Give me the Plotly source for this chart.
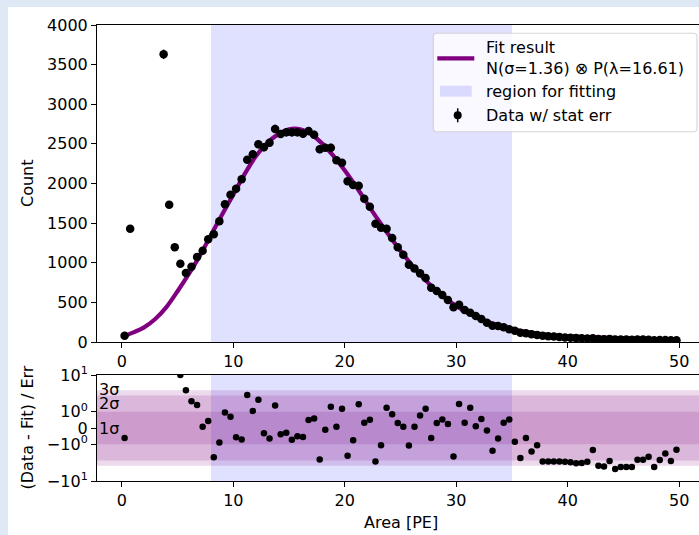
import numpy as np
import plotly.graph_objects as go

# ---------------- data ----------------
bin_centers = np.arange(0.25, 50.0, 0.5)

counts = [80, 1430, None, None, None, None, None, 3630, 1733, 1195,
          988, 870, 950, 1072, 1152, 1296, 1359, 1523, 1737, 1859,
          1934, 2053, 2300, 2368, 2494, 2456, 2515, 2688, 2625, 2646,
          2646, 2646, 2629, 2662, 2616, 2431, 2452, 2452, 2293, 2263,
          2028, 1981, 1972, 1808, 1707, 1493, 1442, 1430, 1312, 1195,
          1102, 976, 929, 866, 808, 686, 643, 593, 530, 438,
          471, 404, 370, 328, 290, 244, 206, 202, 185, 160,
          143, 118, 110, 97, 88, 80, 74, 68, 62, 57,
          53, 49, 46, 45, 47, 38, 36, 39, 31, 31,
          30, 29, 31, 30, 29, 23, 26, 26, 23, 23]

residuals = [-0.61, 35, None, None, None, None, None, 54, 30, 17,
             10.0, 3.0, 1.64, 1.42, 0.08, 0.43, -1.8, -0.89, 0.95, 0.69,
             -0.57, -0.71, 2.06, 1.05, 1.74, -0.33, -0.65, 1.38, -0.39, -0.29,
             -0.73, -0.51, -0.55, 0.49, 0.58, -1.93, -0.10, 1.30, 0.08, 1.19,
             -1.70, -0.75, 1.46, 0.32, 0.50, -2.14, -1.06, 1.25, 0.85, 0.30,
             0.08, -1.08, 0.08, 0.77, 1.19, -0.61, 0.30, 0.52, 0.24, -1.75,
             1.48, 0.32, 1.24, 0.10, 0.55, -0.15, -1.40, -0.65, 0.32, 0.52,
             -0.85, -1.85, -0.61, -1.44, -1.06, -2.14, -2.14, -2.14, -2.14, -2.2,
             -2.3, -2.5, -2.45, -2.2, -1.36, -3.0, -3.2, -2.06, -3.9, -3.3,
             -3.3, -3.3, -1.95, -1.95, -1.76, -3.3, -1.97, -1.56, -2.06, -1.34]

fit_x = [0.25, 1, 2, 3, 4, 5, 6, 7, 8, 9, 10, 11, 12, 13, 14, 15, 16, 17, 18, 19,
         20, 21, 22, 23, 24, 25, 26, 27, 28, 29, 30, 31, 32, 33, 34, 35, 36, 37, 38,
         39, 40, 42, 44, 46, 48, 49.75]
fit_y = [78, 118, 185, 290, 440, 640, 855, 1090, 1350, 1610, 1860, 2115, 2340, 2505,
         2620, 2685, 2685, 2620, 2500, 2345, 2165, 1965, 1750, 1540, 1340, 1150, 975,
         815, 675, 553, 455, 370, 302, 247, 203, 165, 135, 112, 95, 82, 72, 60, 51,
         44, 38, 33]

fit_region = [8, 35]
sigma_levels = [3, 2, 1]
sigma_labels = ["3σ", "2σ", "1σ"]
sigma_label_pos = [3.3, 1.5, 0.0]

count_ticks = [0, 500, 1000, 1500, 2000, 2500, 3000, 3500, 4000]
x_ticks = [0, 10, 20, 30, 40, 50]
res_tick_vals = [10, 1, 0, -1, -10]
res_tick_text = ["10<sup>1</sup>", "10<sup>0</sup>", "0", "−10<sup>0</sup>", "−10<sup>1</sup>"]


# symlog transform (linthresh=2, linscale=1, base 10)
def symlog(v, lt=2.0, ls=1.0):
    if v is None:
        return None
    adj = ls / (1 - 1 / 10.0)
    a = abs(v)
    if a <= lt:
        return v * adj
    return np.sign(v) * lt * (adj + np.log10(a / lt))


res_t = [symlog(v) for v in residuals]
err = [None if c is None else float(np.sqrt(c)) for c in counts]

# ---------------- geometry (page pixels) ----------------
OX, OY = 8, 7
W, H = 691, 528
ML, MT, MB = 89, 18, 54
PW = W - ML
PH = H - MT - MB
FONT = "DejaVu Sans"
FS = 16


def PX(px):
    return (px - OX - ML) / PW


def PY(py):
    return ((H - MB) - (py - OY)) / PH


top_dom = [PY(342), 1.0]
bot_dom = [0.0, PY(375)]
xr = [-2.225, 51.77]
ylim_t = symlog(10)

fig = go.Figure()

fig.add_trace(go.Scatter(x=fit_x, y=fit_y, mode="lines", line=dict(color="#800080", width=4.2, shape="spline", smoothing=0.8),
                         xaxis="x", yaxis="y", hoverinfo="skip"))
fig.add_trace(go.Scatter(x=bin_centers, y=counts, mode="markers",
                         marker=dict(color="black", size=8.5),
                         error_y=dict(type="data", array=err, color="black", thickness=1.5, width=0),
                         xaxis="x", yaxis="y"))
fig.add_trace(go.Scatter(x=bin_centers, y=res_t, mode="markers",
                         marker=dict(color="black", size=6.5),
                         xaxis="x2", yaxis="y2", cliponaxis=True))

shapes = []
# fitting region in both panels
for xa, ya in (("x", "y domain"), ("x2", "y2 domain")):
    shapes.append(dict(type="rect", xref=xa, yref=ya, x0=fit_region[0], x1=fit_region[1], y0=0, y1=1,
                       fillcolor="rgba(0,0,255,0.12)", line=dict(width=0), layer="below"))
# sigma bands
for s in sigma_levels:
    shapes.append(dict(type="rect", xref="x2 domain", yref="y2", x0=0, x1=1, y0=symlog(-s), y1=symlog(s),
                       fillcolor="rgba(128,0,128,0.15)", line=dict(width=0), layer="below"))

# manual legend
lx0, lx1, ly0, ly1 = 433.3, 697.0, 33.3, 131.7
r = 3.5
def pxp(x): return PX(x)
def pyp(y): return PY(y)
path = (f"M {pxp(lx0 + r)},{pyp(ly0)} L {pxp(lx1 - r)},{pyp(ly0)} "
        f"Q {pxp(lx1)},{pyp(ly0)} {pxp(lx1)},{pyp(ly0 + r)} L {pxp(lx1)},{pyp(ly1 - r)} "
        f"Q {pxp(lx1)},{pyp(ly1)} {pxp(lx1 - r)},{pyp(ly1)} L {pxp(lx0 + r)},{pyp(ly1)} "
        f"Q {pxp(lx0)},{pyp(ly1)} {pxp(lx0)},{pyp(ly1 - r)} L {pxp(lx0)},{pyp(ly0 + r)} "
        f"Q {pxp(lx0)},{pyp(ly0)} {pxp(lx0 + r)},{pyp(ly0)} Z")
shapes.append(dict(type="path", xref="paper", yref="paper", path=path,
                   fillcolor="rgba(255,255,255,0.8)", line=dict(color="rgba(204,204,204,0.8)", width=1.1),
                   layer="above"))
shapes.append(dict(type="line", xref="paper", yref="paper", x0=PX(437.3), x1=PX(474.3), y0=PY(58.3), y1=PY(58.3),
                   line=dict(color="#800080", width=4.2), layer="above"))
shapes.append(dict(type="rect", xref="paper", yref="paper", x0=PX(440), x1=PX(471.7), y0=PY(96.7), y1=PY(85.7),
                   fillcolor="rgba(0,0,255,0.12)", line=dict(width=0), layer="above"))
shapes.append(dict(type="line", xref="paper", yref="paper", xsizemode="pixel", ysizemode="pixel",
                   xanchor=PX(457.7), yanchor=PY(115.3), x0=0, x1=0, y0=-7, y1=7,
                   line=dict(color="black", width=1.5), layer="above"))
shapes.append(dict(type="circle", xref="paper", yref="paper", xsizemode="pixel", ysizemode="pixel",
                   xanchor=PX(457.7), yanchor=PY(115.3), x0=-4, x1=4, y0=-4, y1=4,
                   fillcolor="black", line=dict(width=0), layer="above"))

ann = []
leg_text = [("Fit result", 47.3), ("N(σ=1.36) ⊗ P(λ=16.61)", 68.3), ("region for fitting", 91.7),
            ("Data w/ stat err", 115.7)]
for t, yy in leg_text:
    ann.append(dict(text=t, xref="paper", yref="paper", x=PX(485.0), y=PY(yy), xanchor="left", yanchor="middle",
                    showarrow=False, font=dict(family=FONT, size=FS, color="black"), borderpad=0))
for lab, pos in zip(sigma_labels, sigma_label_pos):
    ann.append(dict(text=lab, xref="x2", yref="y2", x=-2.15, y=symlog(pos), xanchor="left", yanchor="middle",
                    showarrow=False, font=dict(family=FONT, size=FS, color="black"), borderpad=0))
ann.append(dict(text="Count", xref="paper", yref="paper", x=PX(27.5), y=PY(183.5), textangle=-90,
                xanchor="center", yanchor="middle", showarrow=False, font=dict(family=FONT, size=FS, color="black")))
ann.append(dict(text="(Data - Fit) / Err", xref="paper", yref="paper", x=PX(26.5), y=PY(428), textangle=-90,
                xanchor="center", yanchor="middle", showarrow=False, font=dict(family=FONT, size=FS, color="black")))
ann.append(dict(text="Area [PE]", xref="paper", yref="paper", x=PX(400.5), y=PY(522.5),
                xanchor="center", yanchor="middle", showarrow=False, font=dict(family=FONT, size=FS, color="black")))

axis_common = dict(showline=True, linecolor="black", linewidth=1.1, ticks="outside", ticklen=5, tickwidth=1.1,
                   tickcolor="black", showgrid=False, zeroline=False,
                   tickfont=dict(family=FONT, size=FS, color="black"))

fig.update_layout(
    width=W, height=H,
    margin=dict(l=ML, r=0, t=MT, b=MB, pad=0),
    paper_bgcolor="white", plot_bgcolor="white",
    showlegend=False,
    font=dict(family=FONT, size=FS, color="black"),
    xaxis=dict(domain=[0, 1], anchor="y", range=xr, tickvals=x_ticks, mirror=True, **axis_common),
    yaxis=dict(domain=top_dom, anchor="x", range=[0, 4000], tickvals=count_ticks, **axis_common),
    xaxis2=dict(domain=[0, 1], anchor="y2", range=xr, tickvals=x_ticks, mirror=True, **axis_common),
    yaxis2=dict(domain=bot_dom, anchor="x2", range=[-ylim_t, ylim_t],
                tickvals=[symlog(v) for v in res_tick_vals], ticktext=res_tick_text, **axis_common),
    shapes=shapes,
    annotations=ann,
)

fig.write_html("out.html",
               post_script="document.body.style.margin='7px 0 0 8px';"
                           "document.body.style.background='#dee9f5';"
                           "document.body.style.overflow='hidden';")
